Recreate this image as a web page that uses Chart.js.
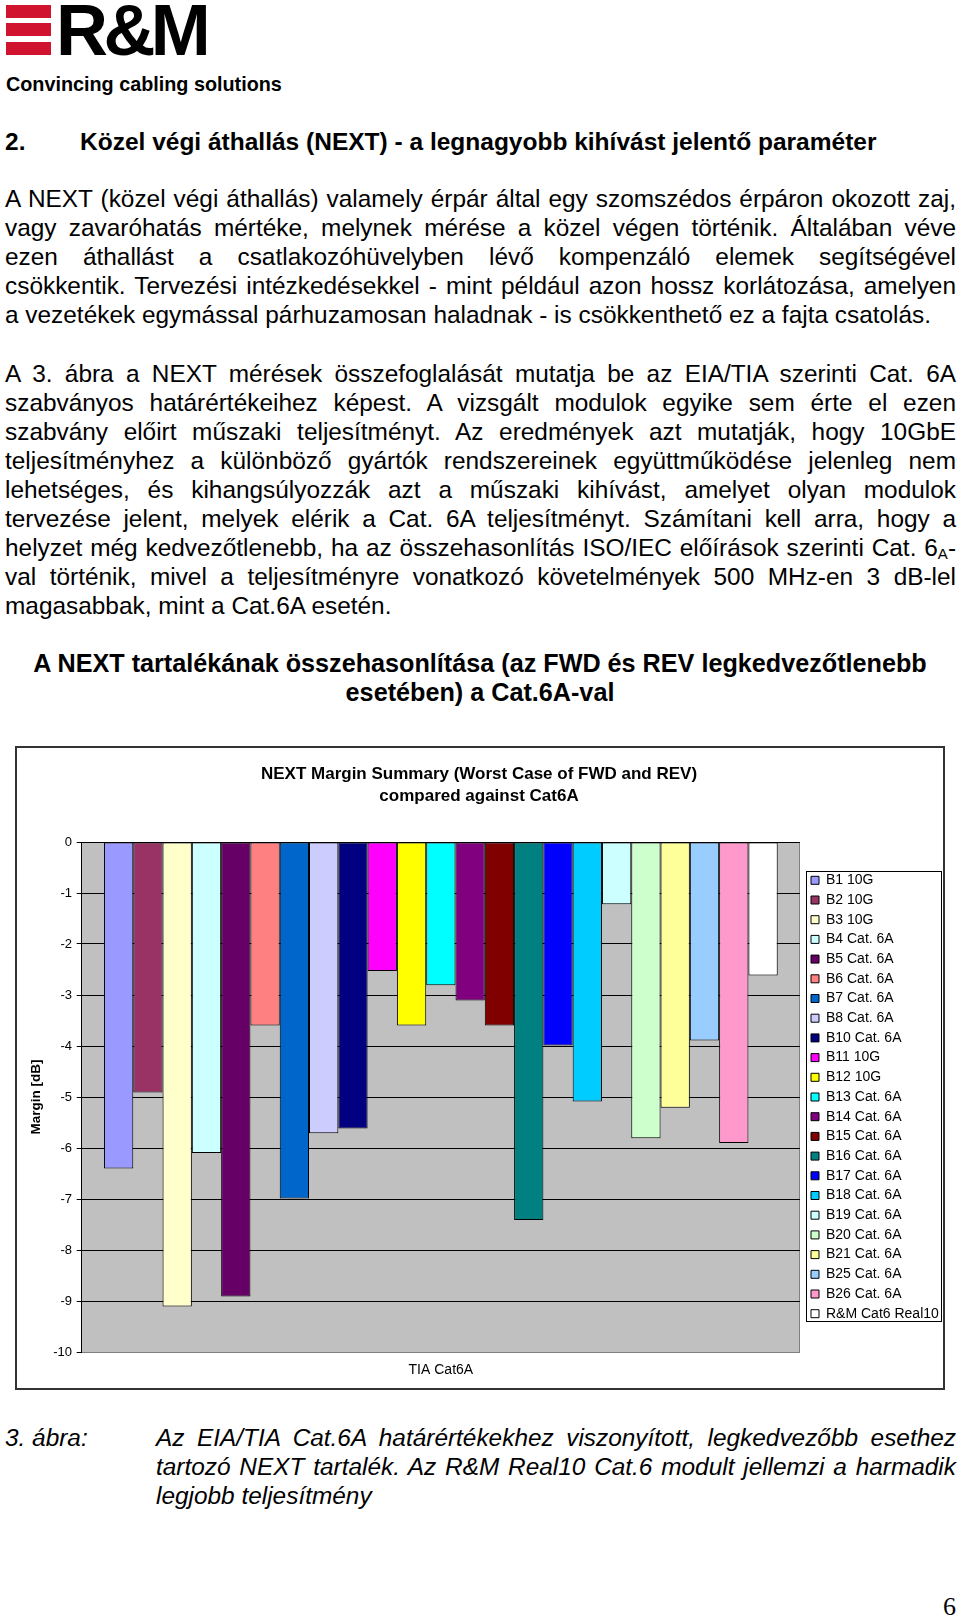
<!DOCTYPE html>
<html lang="hu">
<head>
<meta charset="utf-8">
<title>NEXT tartalék - Cat.6A</title>
<script src="https://cdn.jsdelivr.net/npm/chart.js@4.4.0/dist/chart.umd.min.js"></script>
<style>
  html, body { margin: 0; padding: 0; background: #fff; }
  body { width: 960px; height: 1617px; position: relative; overflow: hidden;
         font-family: "Liberation Sans", Arial, sans-serif; color: #000; }
  .bar { position: absolute; left: 6px; width: 45px; height: 13px; background: #d0142f; }
  .rm { position: absolute; left: 56px; top: -6px; font: bold 72px/72px "Liberation Sans", Arial, sans-serif; letter-spacing: -4.6px; white-space: nowrap; }
  .tag { position: absolute; left: 6px; top: 75px; font: bold 19.8px/19.8px "Liberation Sans", Arial, sans-serif; white-space: nowrap; }
  .ln { position: absolute; left: 5px; width: 951px; height: 29px; font-size: 24.4px; line-height: 29px; }
  .j { text-align: justify; text-align-last: justify; }
  .b { font-weight: bold; }
  .i { font-style: italic; }
  .h { font-size: 24.5px; }
  .c { left: 0; width: 960px; text-align: center; font-size: 25.2px; }
  .cap { left: 156px; width: 800px; }
  sub { font-size: 15px; line-height: 0; vertical-align: -3px; }
  #frame { position: absolute; left: 15px; top: 746px; width: 930px; height: 644px; border: 2px solid #333; box-sizing: border-box; }
  #wrap { position: absolute; left: 15px; top: 747px; width: 928px; height: 642px; }
  .pg { position: absolute; right: 4px; top: 1592px; font: 26px/29px "Liberation Serif", "Times New Roman", serif; }
</style>
</head>
<body>
<div class="bar" style="top:5px"></div>
<div class="bar" style="top:23px"></div>
<div class="bar" style="top:42px"></div>
<div class="rm">R&amp;M</div>
<div class="tag">Convincing cabling solutions</div>

<div class="ln b h" style="top:127px">2.</div>
<div class="ln b h" style="top:127px;left:80px;width:875px">Közel végi áthallás (NEXT) - a legnagyobb kihívást jelentő paraméter</div>

<div class="ln j" style="top:184px">A NEXT (közel végi áthallás) valamely érpár által egy szomszédos érpáron okozott zaj,</div>
<div class="ln j" style="top:213px">vagy zavaróhatás mértéke, melynek mérése a közel végen történik. Általában véve</div>
<div class="ln j" style="top:242px">ezen áthallást a csatlakozóhüvelyben lévő kompenzáló elemek segítségével</div>
<div class="ln j" style="top:271px">csökkentik. Tervezési intézkedésekkel - mint például azon hossz korlátozása, amelyen</div>
<div class="ln" style="top:300px">a vezetékek egymással párhuzamosan haladnak - is csökkenthető ez a fajta csatolás.</div>

<div class="ln j" style="top:359px">A 3. ábra a NEXT mérések összefoglalását mutatja be az EIA/TIA szerinti Cat. 6A</div>
<div class="ln j" style="top:388px">szabványos határértékeihez képest. A vizsgált modulok egyike sem érte el ezen</div>
<div class="ln j" style="top:417px">szabvány előirt műszaki teljesítményt. Az eredmények azt mutatják, hogy 10GbE</div>
<div class="ln j" style="top:446px">teljesítményhez a különböző gyártók rendszereinek együttműködése jelenleg nem</div>
<div class="ln j" style="top:475px">lehetséges, és kihangsúlyozzák azt a műszaki kihívást, amelyet olyan modulok</div>
<div class="ln j" style="top:504px">tervezése jelent, melyek elérik a Cat. 6A teljesítményt. Számítani kell arra, hogy a</div>
<div class="ln j" style="top:533px">helyzet még kedvezőtlenebb, ha az összehasonlítás ISO/IEC előírások szerinti Cat. 6<sub>A</sub>-</div>
<div class="ln j" style="top:562px">val történik, mivel a teljesítményre vonatkozó követelmények 500 MHz-en 3 dB-lel</div>
<div class="ln" style="top:591px">magasabbak, mint a Cat.6A esetén.</div>

<div class="ln b c" style="top:649px">A NEXT tartalékának összehasonlítása (az FWD és REV legkedvezőtlenebb</div>
<div class="ln b c" style="top:678px">esetében) a Cat.6A-val</div>

<div id="frame"></div>
<div id="wrap"><canvas id="nextChart" width="928" height="642"></canvas></div>

<div class="ln i" style="top:1423px">3. ábra:</div>
<div class="ln i j cap" style="top:1423px">Az EIA/TIA Cat.6A határértékekhez viszonyított, legkedvezőbb esethez</div>
<div class="ln i j cap" style="top:1452px">tartozó NEXT tartalék. Az R&amp;M Real10 Cat.6 modult jellemzi a harmadik</div>
<div class="ln i cap" style="top:1481px">legjobb teljesítmény</div>

<div class="pg">6</div>

<script>
// chart data
const categories = ['TIA Cat6A'];
const seriesNames = [
    'B1 10G', 'B2 10G', 'B3 10G', 'B4 Cat. 6A', 'B5 Cat. 6A', 'B6 Cat. 6A',
    'B7 Cat. 6A', 'B8 Cat. 6A', 'B10 Cat. 6A', 'B11 10G', 'B12 10G', 'B13 Cat. 6A',
    'B14 Cat. 6A', 'B15 Cat. 6A', 'B16 Cat. 6A', 'B17 Cat. 6A', 'B18 Cat. 6A', 'B19 Cat. 6A',
    'B20 Cat. 6A', 'B21 Cat. 6A', 'B25 Cat. 6A', 'B26 Cat. 6A', 'R&M Cat6 Real10'
];
const marginValues = [
    -6.40, -4.91, -9.11, -6.10, -8.91, -3.60,
    -6.99, -5.71, -5.62, -2.53, -3.60, -2.81,
    -3.11, -3.60, -7.41, -3.99, -5.09, -1.22,
    -5.81, -5.21, -3.89, -5.90, -2.62
];
const seriesColors = [
    '#9999FF', '#993366', '#FFFFCC', '#CCFFFF', '#660066', '#FF8080',
    '#0066CC', '#CCCCFF', '#000080', '#FF00FF', '#FFFF00', '#00FFFF',
    '#800080', '#800000', '#008080', '#0000FF', '#00CCFF', '#CCFFFF',
    '#CCFFCC', '#FFFF99', '#99CCFF', '#FF99CC', '#FFFFFF'
];
const titleLines = ['NEXT Margin Summary (Worst Case of FWD and REV)', 'compared against Cat6A'];
const yAxisTitle = 'Margin [dB]';
const yMin = -10, yMax = 0, yStep = 1;

const FONT = '"Liberation Sans", Arial, sans-serif';
Chart.defaults.font.family = FONT;
Chart.defaults.color = '#000';

// grey plot area + its right edge (Excel style)
const plotBackground = {
    id: 'plotBackground',
    beforeDraw(chart) {
        const { ctx, chartArea: a } = chart;
        ctx.save();
        ctx.fillStyle = '#C0C0C0';
        ctx.fillRect(a.left, a.top, a.width, a.height);
        ctx.strokeStyle = '#808080';
        ctx.lineWidth = 1;
        ctx.beginPath();
        ctx.moveTo(Math.round(a.right) - 0.5, a.top);
        ctx.lineTo(Math.round(a.right) - 0.5, a.bottom);
        ctx.stroke();
        ctx.restore();
    }
};

// small gap between plot and legend, and the legend's outline
const legendBox = {
    id: 'legendBox',
    afterLayout(chart) {
        chart.legend.left += 5.3;
        chart.legend.right += 5.3;
    },
    afterDraw(chart) {
        const boxes = chart.legend.legendHitBoxes;
        if (!boxes || !boxes.length) return;
        const first = boxes[0], last = boxes[boxes.length - 1];
        const right = Math.max(...boxes.map(b => b.left + b.width)) + 3;
        const ctx = chart.ctx;
        const x = Math.round(first.left - 5) + 0.5;
        const y = Math.round(first.top - 2.3) + 0.5;
        const w = Math.round(right - x);
        const h = Math.round(last.top + last.height + 1 - y);
        ctx.save();
        ctx.strokeStyle = '#000';
        ctx.lineWidth = 1;
        ctx.strokeRect(x, y, w, h);
        ctx.restore();
    }
};

new Chart(document.getElementById('nextChart'), {
    type: 'bar',
    data: {
        labels: categories,
        datasets: seriesNames.map((name, i) => ({
            label: name,
            data: [marginValues[i]],
            backgroundColor: seriesColors[i],
            borderColor: '#000',
            borderWidth: 1,
            borderSkipped: false
        }))
    },
    options: {
        responsive: false, maintainAspectRatio: false, animation: false, events: [],
        categoryPercentage: 0.938, barPercentage: 1.0,
        layout: { padding: 0 },
        plugins: {
            title: {
                display: true, text: titleLines, color: '#000',
                font: { family: FONT, size: 17, weight: 'bold', lineHeight: 22 / 17 },
                padding: { top: 16, bottom: 35 }
            },
            legend: {
                position: 'right', align: 'center', fullSize: false, maxWidth: 143,
                labels: { boxWidth: 8, boxHeight: 8, padding: 5.7, color: '#000', font: { family: FONT, size: 14 } }
            },
            tooltip: { enabled: false }
        },
        scales: {
            x: {
                grid: { display: false, drawTicks: false },
                border: { display: false },
                ticks: { color: '#000', font: { family: FONT, size: 14 }, padding: 9.6 },
                afterFit: s => { s.height = 37; }
            },
            y: {
                min: yMin, max: yMax,
                ticks: { stepSize: yStep, color: '#000', font: { family: FONT, size: 13 }, padding: 4.7 },
                grid: {
                    color: c => (c.tick && c.tick.value === yMin) ? '#808080' : '#000',
                    tickColor: '#000', tickLength: 5, lineWidth: 1
                },
                border: { display: true, color: '#000', width: 1 },
                title: {
                    display: true, text: yAxisTitle, color: '#000',
                    font: { family: FONT, size: 13.5, weight: 'bold' },
                    padding: { top: 13.6, bottom: 0 }
                },
                afterFit: s => { s.width = 66.7; }
            }
        }
    },
    plugins: [plotBackground, legendBox]
});
</script>
</body>
</html>
